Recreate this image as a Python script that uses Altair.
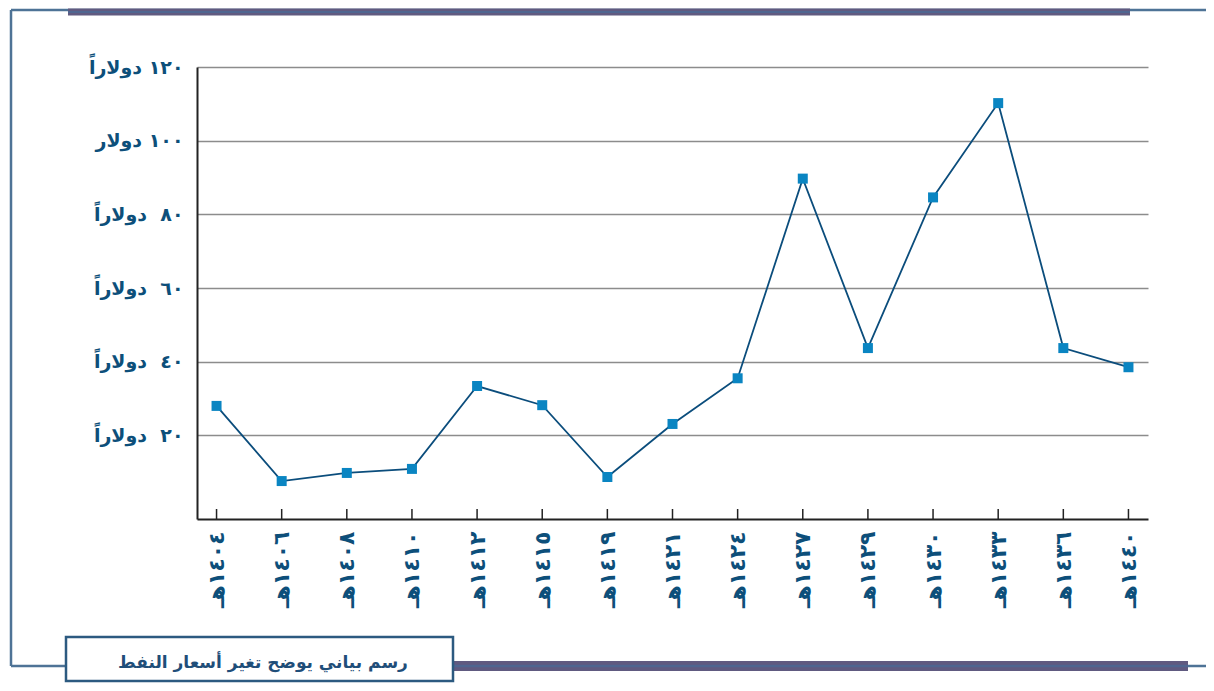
import altair as alt
import pandas as pd

# ---- data ----
years = ["١٤٠٤هـ", "١٤٠٦هـ", "١٤٠٨هـ", "١٤١٠هـ", "١٤١٢هـ", "١٤١٥هـ", "١٤١٩هـ", "١٤٢١هـ",
         "١٤٢٤هـ", "١٤٢٧هـ", "١٤٢٩هـ", "١٤٣٠هـ", "١٤٣٣هـ", "١٤٣٦هـ", "١٤٤٠هـ"]
prices = [28.0, 7.6, 9.8, 10.9, 33.4, 28.2, 8.7, 23.1, 35.5, 89.7, 43.7, 84.6, 110.2, 43.7, 38.5]
y_ticks = [20, 40, 60, 80, 100, 120]
y_tick_labels = ["٢٠\u00a0 دولاراً", "٤٠\u00a0 دولاراً", "٦٠\u00a0 دولاراً", "٨٠\u00a0 دولاراً",
                 "١٠٠ دولار", "١٢٠ دولاراً"]
caption = "رسم بياني يوضح تغير أسعار النفط"

df = pd.DataFrame({"year": years, "price": prices})

W, H = 951, 452
FONT = "DejaVu Sans"
TXT = "#0d4f7a"

label_expr = " : ".join(
    f"datum.value == {v} ? '{t}'" for v, t in zip(y_ticks, y_tick_labels)
) + " : ''"

x_enc = alt.X(
    "year:N", sort=years,
    scale=alt.Scale(type="point", padding=0.3),
    axis=alt.Axis(title=None, labelAngle=270, labelFont=FONT, labelFontWeight="bold",
                  labelFontSize=22, labelColor=TXT, labelPadding=12, ticks=False,
                  domainColor="#222222", domainWidth=2, grid=False),
)
y_enc = alt.Y(
    "price:Q",
    scale=alt.Scale(domain=[-2.7, 120], nice=False, zero=False),
    axis=alt.Axis(title=None, values=y_ticks, labelExpr=label_expr, labelFont=FONT,
                  labelFontWeight="bold", labelFontSize=19, labelColor=TXT, labelPadding=14,
                  ticks=False, domainColor="#222222", domainWidth=2, grid=True,
                  gridColor="#8c8c8c", gridWidth=1.5),
)

base = alt.Chart(df)
line = base.mark_line(color="#0b4d7c", strokeWidth=1.8).encode(x=x_enc, y=y_enc)
pts = base.mark_square(size=100, color="#0a85c2", opacity=1).encode(x=x_enc, y=y_enc)
ticks = base.mark_rule(color="#222222", strokeWidth=1.5).encode(
    x=x_enc, y=alt.value(H - 10), y2=alt.value(H))

one = alt.Data(values=[{"k": 1}])
def rule(x, x2, y, y2, color, w):
    return alt.Chart(one).mark_rule(color=color, strokeWidth=w).encode(
        x=alt.value(x), x2=alt.value(x2), y=alt.value(y), y2=alt.value(y2))

# decorative frame (plot-relative pixel coordinates)
deco = [
    rule(-186, 1020, -57, -57, "#4e7396", 2.5),          # top thin line
    rule(-186, -186, -57, 599, "#4e7396", 2.5),          # left vertical line
    rule(-186, 1020, 599, 599, "#4e7396", 2.5),          # bottom thin line
    rule(-129, 933, -55, -55, "#605a80", 7),             # top thick bar
    rule(-129, 933, -55, -55, "#4f6590", 2),
    rule(256, 991, 599, 599, "#605a80", 10),             # bottom thick bar
    rule(256, 991, 599, 599, "#4f6590", 2.5),
]
box = alt.Chart(one).mark_rect(fill="white", stroke="#2c5a80", strokeWidth=2.5).encode(
    x=alt.value(-131), x2=alt.value(256), y=alt.value(570), y2=alt.value(614))
cap = alt.Chart(one).mark_text(font=FONT, fontWeight="bold", fontSize=17, color="#1f4e79",
                               align="center", baseline="middle").encode(
    x=alt.value(66), y=alt.value(596), text=alt.value(caption))

chart = alt.layer(*deco, box, cap, line, pts, ticks).properties(
    width=W, height=H,
    autosize=alt.AutoSizeParams(type="none"),
    padding={"left": 189, "top": 59, "right": 58, "bottom": 164},
).configure_view(stroke=None)

chart.save("out.html", embed_options={"renderer": "svg", "actions": False})
